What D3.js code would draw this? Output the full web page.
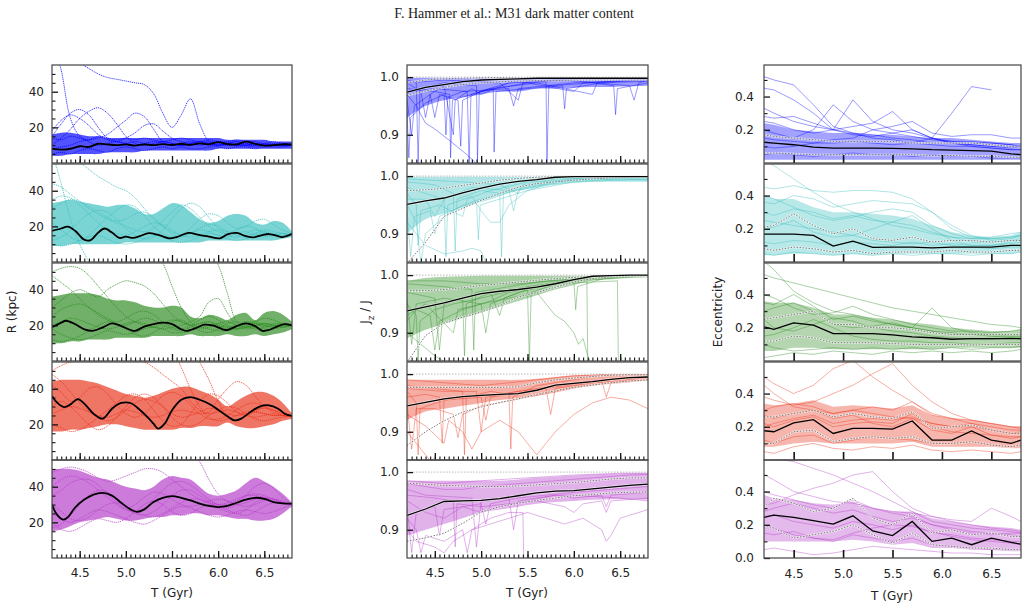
<!doctype html>
<html>
<head>
<meta charset="utf-8">
<script src="https://cdnjs.cloudflare.com/ajax/libs/d3/7.8.5/d3.min.js"></script>
<style>
  body { margin: 0; background: #fff; }
  text { font-family: "DejaVu Sans", sans-serif; fill: #222; }
  .domain { display: none; }
</style>
</head>
<body>
<svg width="1028" height="611"></svg>
<script>
// time grids (Gyr)
var tR = [4.2,4.3,4.4,4.5,4.6,4.7,4.8,4.9,5.0,5.1,5.2,5.3,5.4,5.5,5.6,5.7,5.8,5.9,6.0,6.1,6.2,6.3,6.4,6.5,6.6,6.7,6.8];
var tJ = [4.2,4.4,4.6,4.8,5.0,5.2,5.4,5.6,5.8,6.0,6.2,6.4,6.6,6.8];
var tE = [4.2,4.3,4.5,4.7,4.9,5.1,5.3,5.5,5.7,5.9,6.1,6.3,6.5,6.7,6.8];
var colors = ["#0000ff", "#3cbfbf", "#2e8b22", "#e8341c", "#b43cc8"];
var xTicks = [4.5, 5.0, 5.5, 6.0, 6.5];

// ---- R (kpc): dense bundle edges, a few single orbits, median orbit
var rBandLo = [
  [4,4,5,5,5,5,6,6,6,6,7,7,7,7,7,7,7,7,8,8,8,8,8,8,8,8,8],
  [9,9,10,10,10,10,10,10,11,11,11,11,11,11,11,11,11,12,12,12,12,12,12,12,12,13,14],
  [10,10,11,11,12,12,12,13,13,13,13,14,14,14,14,15,14,14,14,15,14,14,15,14,15,16,18],
  [16,16,17,17,18,19,20,20,19,18,17,17,17,17,18,18,19,19,19,21,19,18,18,19,20,22,23],
  [15,16,18,20,21,22,23,22,21,21,22,23,23,24,24,25,25,24,24,23,22,22,21,21,22,25,29]
];
var rBandHi = [
  [16,17,17,16,15,15,14,14,14,14,14,14,14,14,14,14,14,14,14,13,13,13,13,13,12,12,12],
  [33,34,35,34,33,32,31,32,32,30,27,27,30,33,32,28,24,22,23,26,27,26,22,21,23,22,17],
  [36,37,38,38,38,37,35,34,34,33,31,30,30,31,30,25,24,26,25,23,26,27,23,27,28,26,22],
  [44,45,45,45,44,43,41,39,37,36,35,36,38,40,41,41,39,37,34,30,33,36,38,38,36,32,26],
  [50,50,50,49,47,45,44,42,40,39,38,40,44,46,45,44,40,36,35,36,38,42,45,43,40,36,31]
];
var rLines = [
  [
    [62,60,58,56,53,50,48,47,46,45,44,39,28,20,27,36,22,12,10,11,10,10,11,10,10,11,10],
    [70,52,25,15,12,10,11,12,11,10,11,12,11,10,10,11,12,11,10,10,11,10,9,10,11,10,10],
    [15,22,28,30,27,20,14,12,11,12,11,10,12,11,10,11,12,11,10,11,12,10,10,11,10,10,10],
    [10,14,19,25,29,31,28,22,15,11,10,11,12,11,10,10,11,12,11,10,10,11,10,10,10,10,10],
    [8,9,10,12,13,14,16,20,24,28,26,19,12,10,11,12,11,10,10,11,12,11,10,10,10,10,10],
    [18,24,27,25,21,16,13,12,14,17,21,22,18,14,12,11,10,11,12,11,10,10,11,10,10,10,10],
    [5,6,5,7,8,7,6,8,9,8,7,8,9,8,9,8,8,9,9,8,9,9,8,9,9,9,10],
    [14,13,15,14,13,15,14,13,14,13,14,13,12,13,14,13,12,13,12,12,13,12,12,11,12,11,10]
  ],
  [
    [62,44,24,10,0,-10,null,null,null,null,null,null,null,null,null,null,null,null,null,null,null,null,null,null,null,null,null],
    [null,null,60,56,52,48,45,42,40,36,30,24,20,17,15,16,18,17,15,14,16,17,15,14,15,16,15],
    [44,42,38,34,30,27,24,22,20,18,17,19,23,28,32,30,25,20,17,16,18,20,19,16,15,16,15],
    [30,33,35,34,31,28,25,23,24,27,28,25,20,16,14,16,19,21,20,17,15,14,16,18,17,16,15],
    [12,14,18,23,27,29,28,24,19,15,13,14,18,24,30,33,31,25,19,15,14,16,18,17,15,14,15],
    [10,9,10,12,14,15,13,11,10,11,13,15,14,12,11,12,14,16,15,13,12,13,15,16,15,14,15],
    [22,18,14,12,15,20,25,29,32,31,26,20,16,14,15,19,24,27,26,22,19,20,23,24,21,18,16],
    [35,37,36,32,27,22,18,16,15,17,20,22,21,18,15,14,15,17,18,17,16,15,16,17,16,15,15]
  ],
  [
    [50,52,53,52,48,42,36,30,25,22,20,19,21,23,22,20,18,19,21,22,20,19,20,21,20,19,20],
    [48,44,40,35,30,26,23,21,20,22,24,23,20,18,17,19,21,22,20,18,19,21,22,20,19,20,20],
    [30,34,38,40,38,36,40,43,45,44,42,38,32,26,22,20,21,22,20,19,20,22,21,19,20,21,20],
    [null,null,null,null,null,null,null,null,null,null,null,62,55,42,30,22,19,20,21,19,18,20,21,20,19,20,20],
    [null,null,null,null,null,null,null,null,null,null,null,null,null,null,null,null,null,62,54,38,22,19,20,21,20,20,20],
    [12,11,12,14,17,20,22,21,18,15,14,16,19,22,23,20,17,16,18,21,22,20,18,19,21,21,20],
    [25,29,31,32,30,27,24,22,24,27,28,26,22,19,18,20,23,25,23,20,18,19,22,24,23,21,20],
    [18,15,13,12,13,15,17,16,15,16,18,19,18,16,16,17,19,18,17,17,18,19,19,18,18,19,20],
    [20,22,24,23,21,19,18,19,21,22,21,19,18,19,20,22,25,33,35,27,20,18,19,21,20,19,20]
  ],
  [
    [50,53,55,56,57,57,57,57,57,56,55,52,48,44,40,33,28,26,27,28,27,25,24,25,26,25,24.5],
    [48,44,38,32,27,24,22,24,28,32,34,33,30,26,24,25,27,29,28,26,25,26,27,26,25,25,24.5],
    [null,null,null,null,null,null,null,null,null,null,null,null,70,62,52,40,30,24,22,23,25,27,27,26,25,25,24.5],
    [null,null,null,null,null,null,null,null,null,null,null,null,null,null,null,65,55,45,33,24,22,25,28,29,28,26,24.5],
    [26,28,30,29,27,25,24,26,28,27,25,24,25,27,28,27,26,27,34,40,44,42,36,30,27,25,24.5],
    [30,33,30,25,20,17,19,24,30,35,37,35,30,24,20,19,21,25,28,30,29,26,23,22,23,24,24.5],
    [20,18,16,17,20,24,28,32,36,37,34,28,22,19,20,26,33,37,36,32,27,25,27,30,30,27,24.5],
    [42,38,33,35,40,41,37,31,26,24,26,31,36,38,36,31,26,23,23,25,28,31,32,30,28,26,24.5]
  ],
  [
    [48,50,51,50,48,45,43,44,46,48,50,50,48,44,40,36,33,31,30,31,33,35,35,34,32,31,30],
    [null,null,null,null,null,null,null,null,null,null,null,null,null,null,null,60,54,44,36,32,30,31,33,34,33,31,30],
    [17,19,24,30,35,38,37,33,28,25,24,26,30,35,38,38,35,32,30,30,32,35,36,35,33,31,30],
    [30,26,22,21,23,27,30,31,29,26,24,23,25,28,31,33,33,31,28,26,25,27,31,33,33,31,30],
    [40,44,46,45,42,38,34,30,27,26,28,33,38,42,43,41,37,33,30,28,30,35,40,42,39,34,30],
    [25,22,20,22,25,27,26,24,22,20,19,21,24,27,29,28,26,24,23,24,26,27,26,25,26,28,30],
    [35,38,42,44,44,41,36,31,28,30,34,37,36,33,30,29,30,32,33,32,30,29,30,32,33,32,30],
    [20,16,15,17,20,22,21,20,22,26,30,32,30,26,24,25,28,30,29,27,25,24,26,29,31,31,30]
  ]
];
var rMedian = [
  [[4.2,7.9],[4.3,7.5],[4.4,8],[4.5,9.4],[4.6,9],[4.7,10.8],[4.8,10.4],[4.9,10],[5.0,10.4],[5.1,9.8],[5.2,10.5],[5.3,10],[5.4,10.6],[5.5,10.1],[5.6,10.8],[5.7,10.2],[5.8,11],[5.9,10.5],[6.0,11.7],[6.1,10.6],[6.2,10.4],[6.3,12],[6.4,10.8],[6.5,9.8],[6.6,10],[6.7,10.5],[6.8,10.4]],
  [[4.2,17.5],[4.3,18.8],[4.37,19.8],[4.45,17.5],[4.55,12.5],[4.62,12.3],[4.7,16.5],[4.77,18.8],[4.85,16.5],[4.93,13.5],[5.0,14.2],[5.08,13.5],[5.15,14.5],[5.25,16.2],[5.35,15.2],[5.47,13.3],[5.55,14],[5.68,16.3],[5.78,15.3],[5.9,14.2],[6.02,13.3],[6.1,15.5],[6.2,16.3],[6.3,14.5],[6.38,13.8],[6.47,15],[6.55,15.7],[6.62,15],[6.7,14],[6.8,15.8]],
  [[4.2,18.9],[4.3,21.5],[4.35,22.6],[4.45,20.7],[4.55,17.8],[4.65,17],[4.75,18.9],[4.85,21.1],[4.95,19.6],[5.05,17.4],[5.1,16.9],[5.2,19.3],[5.3,20.7],[5.4,21.5],[5.5,20.7],[5.6,17.8],[5.65,16.9],[5.75,18.3],[5.85,20.4],[5.95,19.8],[6.05,17.8],[6.1,17.4],[6.2,19.6],[6.3,21.1],[6.4,19.6],[6.48,16.9],[6.55,17.4],[6.65,19.6],[6.72,20.7],[6.8,20]],
  [[4.2,36],[4.25,32.5],[4.33,29.7],[4.4,31.2],[4.48,34.2],[4.55,31.6],[4.65,26],[4.75,23.2],[4.85,28.8],[4.95,32],[5.05,32],[5.15,28.2],[5.25,23.2],[5.3,20.4],[5.35,17.6],[5.42,20.4],[5.5,27.9],[5.6,33.8],[5.7,35.3],[5.8,33.8],[5.9,31.6],[6.0,28.2],[6.1,24.5],[6.18,22.2],[6.25,23.2],[6.35,26.9],[6.45,30],[6.55,30.7],[6.65,28.8],[6.72,26],[6.8,24.7]],
  [[4.2,30],[4.25,24.6],[4.32,21.5],[4.37,22.8],[4.45,28.3],[4.55,32.8],[4.65,35.6],[4.75,36.5],[4.85,35],[4.95,31],[5.05,27.3],[5.12,25.9],[5.2,27.3],[5.3,31.4],[5.4,33.8],[5.5,34.7],[5.6,33.8],[5.7,32.3],[5.8,30.5],[5.9,29.2],[6.0,28.6],[6.1,29.2],[6.2,31],[6.3,32.8],[6.4,33.8],[6.5,33.2],[6.6,31.4],[6.7,30.6],[6.8,30.5]]
];

// ---- Jz / J
var jBandLo = [
  [0.93,0.95,0.96,0.965,0.97,0.975,0.975,0.98,0.98,0.982,0.983,0.983,0.984,0.985],
  [0.9,0.925,0.935,0.945,0.955,0.965,0.975,0.98,0.985,0.988,0.99,0.99,0.99,0.99],
  [0.89,0.905,0.915,0.925,0.935,0.945,0.955,0.965,0.975,0.983,0.99,0.993,0.995,0.996],
  [0.92,0.935,0.94,0.945,0.95,0.955,0.958,0.962,0.968,0.975,0.98,0.984,0.987,0.99],
  [0.89,0.9,0.91,0.92,0.93,0.935,0.94,0.945,0.948,0.95,0.952,0.953,0.953,0.952]
];
var jBandHi = [
  [0.999,0.999,0.999,0.999,0.999,0.999,0.999,0.999,0.999,0.999,0.999,0.999,0.999,0.999],
  [0.999,0.999,0.999,0.999,0.999,0.999,0.999,0.999,0.999,0.999,0.999,0.999,0.999,0.999],
  [0.99,0.995,0.997,0.998,0.999,0.999,0.999,0.999,0.999,0.999,0.999,0.999,0.999,0.999],
  [0.99,0.99,0.99,0.99,0.99,0.99,0.99,0.992,0.995,0.998,0.999,0.999,0.999,0.999],
  [0.985,0.985,0.985,0.985,0.985,0.985,0.987,0.99,0.992,0.994,0.996,0.997,0.998,0.998]
];
var jLines = [
  [
    [[4.2,0.99],[4.35,0.975],[4.4,0.93],[4.45,0.97],[4.6,0.985],[4.7,0.9],[4.72,0.96],[4.9,0.98],[5.0,0.97],[5.3,0.99],[5.8,0.995],[6.8,0.998]],
    [[4.2,0.97],[4.3,0.95],[4.4,0.92],[4.5,0.91],[4.66,0.89],[4.85,0.865],[4.95,0.85]],
    [[4.2,0.995],[4.3,0.99],[4.32,0.85],[4.34,0.98],[4.6,0.99],[4.95,0.985],[4.96,0.85],[4.98,0.975],[5.3,0.99],[5.7,0.992],[5.71,0.85],[5.73,0.985],[6.2,0.99],[6.43,0.985],[6.45,0.935],[6.47,0.98],[6.8,0.99]],
    [[4.2,0.98],[4.5,0.975],[4.66,0.97],[4.67,0.86],[4.69,0.96],[4.9,0.97],[5.13,0.98],[5.14,0.87],[5.16,0.975],[5.5,0.98],[5.88,0.985],[5.9,0.945],[5.92,0.98],[6.3,0.99],[6.8,0.993]],
    [[4.2,0.96],[4.25,0.9],[4.28,0.95],[4.45,0.97],[4.5,0.93],[4.55,0.97],[4.75,0.96],[4.78,0.88],[4.8,0.96],[5.0,0.975],[5.5,0.99],[6.0,0.975],[6.1,0.99],[6.8,0.997]],
    [[4.2,0.99],[4.6,0.995],[5.2,0.99],[5.4,0.96],[5.45,0.99],[5.9,0.995],[6.6,0.985],[6.65,0.96],[6.7,0.99],[6.8,0.995]],
    [[4.2,0.94],[4.22,0.86],[4.24,0.93],[4.4,0.955],[4.6,0.97],[4.62,0.9],[4.64,0.965],[4.8,0.975],[5.3,0.98],[5.35,0.95],[5.4,0.98],[6.0,0.99],[6.8,0.995]],
    [[4.2,0.975],[4.5,0.98],[4.85,0.975],[4.87,0.85],[4.89,0.97],[5.1,0.98],[5.6,0.99],[6.2,0.97],[6.25,0.99],[6.8,0.996]]
  ],
  [
    [[4.2,0.95],[4.3,0.92],[4.35,0.85],[4.4,0.9],[4.6,0.93],[4.8,0.95],[5.0,0.96],[5.4,0.98],[5.8,0.995],[6.8,0.999]],
    [[4.2,0.98],[4.4,0.97],[4.6,0.96],[4.62,0.86],[4.64,0.95],[4.9,0.965],[5.0,0.94],[5.1,0.92],[5.2,0.92],[5.3,0.95],[5.5,0.975],[6.0,0.99],[6.8,0.995]],
    [[4.2,0.92],[4.4,0.88],[4.6,0.865],[4.8,0.87],[4.9,0.875],[5.0,0.87],[5.05,0.85]],
    [[4.2,0.99],[4.5,0.985],[4.7,0.97],[4.72,0.87],[4.74,0.96],[5.0,0.975],[5.2,0.97],[5.22,0.86],[5.24,0.97],[5.6,0.985],[6.0,0.995],[6.8,0.998]],
    [[4.2,0.97],[4.3,0.95],[4.32,0.88],[4.35,0.94],[4.55,0.95],[4.8,0.93],[4.85,0.96],[5.1,0.975],[5.5,0.99],[6.5,0.995],[6.8,0.993]],
    [[4.2,0.94],[4.24,0.86],[4.28,0.93],[4.45,0.94],[4.5,0.9],[4.55,0.93],[4.75,0.945],[4.95,0.955],[4.97,0.89],[4.99,0.95],[5.3,0.965],[5.7,0.985],[6.1,0.995],[6.8,0.999]],
    [[4.2,0.995],[4.8,0.99],[5.2,0.985],[5.4,0.97],[5.45,0.985],[6.0,0.995],[6.8,0.999]],
    [[4.2,0.96],[4.4,0.96],[4.5,0.93],[4.6,0.96],[4.9,0.98],[5.3,0.975],[5.35,0.94],[5.4,0.975],[5.8,0.99],[6.8,0.998]]
  ],
  [
    [[4.2,0.95],[4.3,0.93],[4.32,0.85],[4.34,0.92],[4.5,0.94],[4.7,0.95],[5.0,0.96],[5.5,0.98],[6.2,0.995],[6.8,0.999]],
    [[4.2,0.9],[4.35,0.88],[4.5,0.86],[4.6,0.85]],
    [[4.2,0.97],[4.5,0.96],[4.55,0.87],[4.6,0.95],[4.8,0.96],[4.82,0.86],[4.84,0.95],[5.1,0.97],[5.2,0.93],[5.25,0.96],[5.5,0.975],[5.52,0.85],[5.54,0.97],[5.9,0.99],[6.8,0.999]],
    [[4.2,0.93],[4.4,0.95],[4.7,0.9],[4.75,0.94],[5.0,0.95],[5.3,0.96],[5.6,0.97],[5.8,0.93],[5.9,0.92],[6.0,0.9],[6.05,0.88],[6.1,0.89],[6.15,0.86],[6.18,0.85]],
    [[4.2,0.985],[4.6,0.98],[4.9,0.975],[4.92,0.87],[4.94,0.97],[5.3,0.98],[5.7,0.99],[6.14,0.995],[6.15,0.85]],
    [[4.2,0.96],[4.25,0.88],[4.3,0.95],[4.6,0.96],[5.0,0.95],[5.05,0.9],[5.1,0.95],[5.4,0.97],[5.8,0.985],[6.47,0.99],[6.48,0.85]],
    [[4.2,0.99],[4.6,0.99],[5.0,0.985],[5.4,0.985],[5.8,0.99],[6.0,0.99],[6.02,0.94],[6.04,0.98],[6.4,0.998],[6.8,0.999]],
    [[4.2,0.92],[4.3,0.94],[4.45,0.93],[4.5,0.87],[4.55,0.92],[4.8,0.94],[5.1,0.955],[5.3,0.97],[5.6,0.98],[6.0,0.99],[6.8,0.999]]
  ],
  [
    [[4.2,0.97],[4.3,0.95],[4.32,0.86],[4.34,0.94],[4.6,0.955],[4.9,0.96],[5.2,0.965],[5.6,0.975],[6.0,0.985],[6.5,0.993],[6.8,0.995]],
    [[4.2,0.93],[4.4,0.91],[4.6,0.88],[4.65,0.92],[4.8,0.9],[4.9,0.87],[5.0,0.9],[5.2,0.92],[5.4,0.9],[5.5,0.88],[5.6,0.86],[5.7,0.88],[5.8,0.9],[6.0,0.93],[6.2,0.95],[6.4,0.96],[6.6,0.955],[6.8,0.94]],
    [[4.2,0.98],[4.5,0.975],[4.8,0.97],[4.82,0.86],[4.84,0.96],[5.1,0.97],[5.3,0.965],[5.32,0.87],[5.34,0.96],[5.6,0.98],[6.0,0.99],[6.3,0.999],[6.8,0.999]],
    [[4.2,0.95],[4.25,0.87],[4.3,0.94],[4.5,0.94],[4.7,0.93],[4.75,0.89],[4.8,0.93],[5.0,0.945],[5.2,0.95],[5.5,0.96],[5.8,0.97],[6.1,0.98],[6.5,0.985],[6.8,0.99]],
    [[4.2,0.99],[4.6,0.985],[5.0,0.98],[5.3,0.985],[5.6,0.99],[6.0,0.997],[6.4,0.999],[6.8,0.999]],
    [[4.2,0.9],[4.3,0.88],[4.4,0.86],[4.45,0.85]],
    [[4.2,0.96],[4.4,0.965],[4.55,0.96],[4.58,0.88],[4.6,0.955],[5.0,0.96],[5.05,0.92],[5.1,0.96],[5.5,0.97],[5.7,0.975],[5.75,0.93],[5.8,0.975],[6.2,0.985],[6.8,0.99]],
    [[4.2,0.975],[4.6,0.97],[4.95,0.97],[5.0,0.9],[5.05,0.96],[5.4,0.97],[5.9,0.98],[6.3,0.99],[6.35,0.96],[6.4,0.985],[6.8,0.995]]
  ],
  [
    [[4.2,0.98],[4.4,0.975],[4.6,0.97],[4.8,0.97],[5.0,0.975],[5.4,0.98],[5.8,0.985],[6.2,0.99],[6.6,0.995],[6.8,0.996]],
    [[4.2,0.92],[4.3,0.9],[4.35,0.86],[4.4,0.89],[4.6,0.88],[4.8,0.9],[4.85,0.86],[4.9,0.9],[5.1,0.92],[5.3,0.93],[5.45,0.93],[5.46,0.85]],
    [[4.2,0.96],[4.5,0.955],[4.7,0.95],[4.72,0.87],[4.74,0.945],[5.0,0.94],[5.3,0.945],[5.6,0.95],[5.9,0.94],[6.0,0.93],[6.1,0.945],[6.3,0.95],[6.35,0.93],[6.4,0.95],[6.8,0.955]],
    [[4.2,0.9],[4.3,0.88],[4.5,0.87],[4.6,0.86],[4.7,0.88],[4.9,0.9],[5.1,0.91],[5.3,0.92],[5.5,0.93],[5.7,0.92],[5.9,0.91],[6.1,0.92],[6.3,0.9],[6.35,0.88],[6.4,0.89],[6.5,0.92],[6.8,0.935]],
    [[4.2,0.985],[4.6,0.98],[5.0,0.985],[5.5,0.99],[6.0,0.995],[6.5,0.998],[6.8,0.998]],
    [[4.2,0.94],[4.25,0.86],[4.3,0.93],[4.5,0.94],[4.55,0.89],[4.6,0.935],[5.0,0.945],[5.05,0.91],[5.1,0.945],[5.4,0.955],[5.7,0.96],[6.0,0.965],[6.4,0.97],[6.8,0.975]],
    [[4.2,0.97],[4.4,0.96],[4.9,0.955],[4.95,0.87],[5.0,0.95],[5.3,0.955],[5.35,0.9],[5.4,0.95],[5.8,0.96],[6.0,0.955],[6.3,0.96],[6.35,0.94],[6.4,0.96],[6.8,0.965]],
    [[4.2,0.95],[4.4,0.93],[4.6,0.92],[4.8,0.94],[5.0,0.93],[5.2,0.94],[5.5,0.95],[5.8,0.96],[6.0,0.96],[6.5,0.955],[6.8,0.95]]
  ]
];
var jMed = [
  [0.974,0.982,0.987,0.992,0.995,0.996,0.997,0.998,0.998,0.998,0.998,0.998,0.998,0.998],
  [0.951,0.957,0.962,0.971,0.979,0.986,0.991,0.994,0.998,0.999,0.999,0.999,0.999,0.999],
  [0.938,0.945,0.952,0.96,0.968,0.972,0.975,0.979,0.985,0.992,0.998,0.999,1.0,1.0],
  [0.945,0.951,0.957,0.961,0.963,0.965,0.966,0.972,0.981,0.984,0.987,0.991,0.994,0.995],
  [0.925,0.936,0.949,0.95,0.951,0.954,0.959,0.964,0.967,0.968,0.971,0.974,0.977,0.979]
];
var jUp = [
  [0.99,0.995,0.997,0.998,0.999,0.999,0.999,0.999,0.999,0.999,0.999,0.999,0.999,0.999],
  [0.975,0.976,0.979,0.984,0.988,0.993,0.996,0.998,0.999,0.999,0.999,0.999,0.999,0.999],
  [0.973,0.973,0.975,0.978,0.982,0.985,0.988,0.991,0.994,0.996,0.998,0.999,0.999,0.999],
  [0.977,0.977,0.977,0.977,0.977,0.977,0.978,0.985,0.99,0.993,0.996,0.998,0.999,0.999],
  [0.981,0.979,0.977,0.976,0.975,0.975,0.976,0.978,0.98,0.982,0.985,0.988,0.99,0.99]
];
var jLo = [
  [0.968,0.976,0.982,0.987,0.99,0.992,0.993,0.994,0.994,0.995,0.995,0.995,0.995,0.995],
  [0.849,0.885,0.93,0.944,0.958,0.97,0.981,0.987,0.99,0.993,0.995,0.997,0.998,0.999],
  [0.849,0.895,0.917,0.927,0.936,0.947,0.962,0.97,0.979,0.988,0.994,0.997,0.998,0.999],
  [0.876,0.9,0.919,0.934,0.943,0.951,0.957,0.965,0.971,0.977,0.981,0.985,0.988,0.99],
  [0.88,0.886,0.894,0.911,0.931,0.94,0.946,0.951,0.955,0.959,0.961,0.964,0.965,0.966]
];

// ---- Eccentricity
var eBandLo = [
  [0.02,0.02,0.02,0.02,0.02,0.02,0.02,0.02,0.02,0.02,0.02,0.02,0.02,0.02,0.02],
  [0.04,0.04,0.05,0.05,0.04,0.05,0.04,0.05,0.05,0.05,0.05,0.05,0.05,0.05,0.06],
  [0.06,0.06,0.08,0.08,0.07,0.07,0.07,0.07,0.07,0.07,0.08,0.08,0.08,0.08,0.08],
  [0.08,0.08,0.1,0.11,0.1,0.1,0.1,0.1,0.11,0.08,0.08,0.08,0.08,0.07,0.07],
  [0.1,0.1,0.1,0.1,0.1,0.11,0.1,0.08,0.09,0.06,0.06,0.05,0.05,0.04,0.04]
];
var eBandHi = [
  [0.24,0.23,0.2,0.19,0.18,0.18,0.17,0.17,0.16,0.15,0.15,0.14,0.13,0.12,0.12],
  [0.4,0.38,0.38,0.33,0.3,0.3,0.29,0.28,0.26,0.22,0.18,0.16,0.15,0.16,0.18],
  [0.36,0.35,0.35,0.32,0.28,0.28,0.26,0.25,0.23,0.22,0.2,0.19,0.18,0.18,0.19],
  [0.34,0.33,0.34,0.36,0.32,0.33,0.32,0.31,0.33,0.27,0.25,0.24,0.22,0.2,0.2],
  [0.38,0.36,0.35,0.33,0.32,0.34,0.3,0.28,0.28,0.24,0.22,0.2,0.19,0.18,0.17]
];
var eLines = [
  [
    [0.52,0.5,0.47,0.35,0.22,0.18,0.15,0.14,0.12,0.11,0.1,0.1,0.09,0.08,0.08],
    [0.45,0.44,0.38,0.3,0.2,0.17,0.16,0.18,0.2,0.15,0.12,0.11,0.1,0.1,0.1],
    [0.2,0.18,0.15,0.2,0.35,0.25,0.2,0.18,0.16,0.14,0.13,0.13,0.12,0.11,0.1],
    [0.15,0.14,0.13,0.12,0.12,0.13,0.12,0.11,0.12,0.15,0.3,0.46,0.44,null,null],
    [0.33,0.3,0.25,0.22,0.2,0.38,0.25,0.2,0.18,0.15,0.12,0.1,0.09,0.08,0.08],
    [0.25,0.24,0.2,0.18,0.2,0.22,0.24,0.31,0.2,0.15,0.13,0.12,0.12,0.11,0.1],
    [0.1,0.09,0.1,0.12,0.14,0.15,0.2,0.22,0.25,0.18,0.16,0.17,0.17,0.15,0.15],
    [0.05,0.06,0.05,0.04,0.05,0.06,0.05,0.05,0.04,0.05,0.04,0.04,0.03,0.03,0.03],
    [0.28,0.27,0.28,0.24,0.2,0.18,0.17,0.15,0.14,0.12,0.12,0.11,0.1,0.09,0.1]
  ],
  [
    [0.62,0.58,0.5,0.42,0.35,0.3,0.26,0.22,0.2,0.17,0.15,0.14,0.14,0.15,0.16],
    [0.45,0.44,0.46,0.43,0.42,0.43,0.43,0.42,0.38,0.3,0.2,0.15,0.14,0.15,0.16],
    [0.36,0.35,0.4,0.38,0.33,0.35,0.37,0.36,0.35,0.3,0.22,0.16,0.13,0.14,0.16],
    [0.3,0.28,0.32,0.3,0.26,0.28,0.25,0.24,0.22,0.18,0.15,0.12,0.12,0.13,0.14],
    [0.4,0.38,0.33,0.28,0.25,0.27,0.3,0.32,0.3,0.22,0.17,0.14,0.15,0.17,0.18],
    [0.12,0.11,0.13,0.12,0.1,0.12,0.11,0.1,0.12,0.1,0.11,0.1,0.1,0.11,0.12],
    [0.05,0.04,0.06,0.05,0.04,0.05,0.04,0.05,0.04,0.05,0.05,0.04,0.05,0.05,0.06],
    [0.25,0.24,0.22,0.2,0.18,0.16,0.2,0.24,0.28,0.2,0.13,0.1,0.1,0.12,0.13],
    [0.2,0.21,0.25,0.18,0.15,0.16,0.13,0.12,0.11,0.12,0.1,0.09,0.08,0.09,0.09]
  ],
  [
    [0.6,0.55,0.42,0.35,0.3,0.28,0.25,0.22,0.2,0.18,0.16,0.16,0.15,0.15,0.15],
    [0.52,0.5,0.47,0.44,0.41,0.38,0.35,0.32,0.3,0.28,0.26,0.24,0.22,0.21,0.2],
    [0.35,0.34,0.4,0.33,0.25,0.27,0.24,0.22,0.2,0.32,0.2,0.17,0.16,0.15,0.15],
    [0.3,0.32,0.35,0.3,0.22,0.2,0.21,0.23,0.2,0.18,0.17,0.16,0.15,0.14,0.14],
    [0.1,0.08,0.06,0.07,0.08,0.07,0.08,0.07,0.08,0.07,0.08,0.07,0.08,0.08,0.09],
    [0.25,0.2,0.18,0.22,0.26,0.24,0.2,0.18,0.17,0.15,0.14,0.13,0.13,0.14,0.13],
    [0.15,0.16,0.2,0.25,0.2,0.15,0.13,0.12,0.12,0.11,0.11,0.1,0.1,0.11,0.11],
    [0.4,0.38,0.32,0.28,0.29,0.33,0.28,0.25,0.22,0.2,0.18,0.18,0.17,0.18,0.19],
    [0.02,0.03,0.05,0.04,0.06,0.05,0.04,0.06,0.05,0.06,0.05,0.06,0.05,0.06,0.07]
  ],
  [
    [0.38,0.36,0.33,0.35,0.4,0.45,0.52,0.58,0.45,0.35,0.28,0.24,0.22,0.2,0.2],
    [0.5,0.46,0.4,0.45,0.55,0.6,0.5,0.42,0.35,0.28,0.25,0.22,0.2,0.18,0.18],
    [0.3,0.32,0.34,0.32,0.28,0.3,0.32,0.3,0.35,0.27,0.25,0.24,0.22,0.2,0.19],
    [0.2,0.22,0.25,0.27,0.22,0.24,0.25,0.24,0.26,0.22,0.2,0.22,0.18,0.16,0.17],
    [0.12,0.1,0.14,0.15,0.1,0.12,0.14,0.13,0.12,0.1,0.1,0.11,0.09,0.08,0.09],
    [0.27,0.25,0.28,0.3,0.25,0.27,0.22,0.2,0.25,0.18,0.16,0.2,0.15,0.13,0.14],
    [0.05,0.04,0.08,0.1,0.07,0.06,0.08,0.07,0.09,0.06,0.05,0.06,0.05,0.04,0.05],
    [0.22,0.2,0.24,0.26,0.2,0.22,0.23,0.22,0.28,0.2,0.17,0.16,0.15,0.14,0.14],
    [0.45,0.4,0.32,0.3,0.28,0.3,0.28,0.26,0.25,0.22,0.2,0.2,0.18,0.16,0.16]
  ],
  [
    [0.62,0.6,0.58,0.54,0.5,0.45,0.4,0.34,0.28,0.22,0.2,0.18,0.17,0.16,0.15],
    [0.5,0.47,0.4,0.37,0.34,0.33,0.3,0.27,0.25,0.2,0.18,0.16,0.15,0.14,0.13],
    [0.32,0.33,0.38,0.42,0.45,0.5,0.52,0.4,0.3,0.25,0.22,0.2,0.18,0.17,0.16],
    [0.4,0.38,0.35,0.32,0.3,0.35,0.3,0.28,0.27,0.25,0.23,0.22,0.3,0.25,0.22],
    [0.25,0.26,0.22,0.2,0.18,0.22,0.2,0.17,0.2,0.15,0.14,0.12,0.11,0.1,0.1],
    [0.15,0.14,0.16,0.12,0.1,0.14,0.12,0.1,0.12,0.08,0.07,0.06,0.05,0.05,0.05],
    [0.28,0.3,0.33,0.3,0.27,0.29,0.25,0.22,0.24,0.2,0.17,0.15,0.14,0.15,0.15],
    [0.05,0.06,0.04,0.02,0.03,0.05,0.07,0.06,0.05,0.04,0.03,0.03,0.02,0.02,0.02],
    [0.2,0.18,0.14,0.12,0.11,0.15,0.18,0.2,0.19,0.16,0.13,0.11,0.1,0.09,0.08]
  ]
];
var eMed = [
  [0.125,0.12,0.11,0.095,0.09,0.09,0.09,0.088,0.085,0.08,0.078,0.075,0.072,0.055,0.05],
  [0.168,0.168,0.168,0.16,0.096,0.126,0.088,0.09,0.09,0.085,0.09,0.09,0.09,0.1,0.1],
  [0.206,0.19,0.23,0.216,0.165,0.165,0.165,0.157,0.145,0.14,0.131,0.135,0.135,0.135,0.135],
  [0.176,0.17,0.224,0.243,0.16,0.19,0.19,0.186,0.235,0.12,0.12,0.175,0.12,0.1,0.12],
  [0.244,0.258,0.244,0.225,0.204,0.254,0.163,0.135,0.22,0.1,0.12,0.08,0.12,0.094,0.083]
];
var eUp = [
  [0.17,0.16,0.15,0.14,0.13,0.13,0.13,0.13,0.12,0.12,0.12,0.12,0.11,0.1,0.1],
  [0.21,0.22,0.29,0.22,0.17,0.2,0.14,0.13,0.15,0.12,0.13,0.13,0.12,0.13,0.13],
  [0.25,0.26,0.28,0.3,0.22,0.22,0.2,0.2,0.19,0.17,0.16,0.16,0.16,0.16,0.16],
  [0.26,0.26,0.28,0.3,0.26,0.28,0.26,0.25,0.29,0.19,0.2,0.21,0.18,0.16,0.16],
  [0.31,0.36,0.33,0.28,0.3,0.36,0.24,0.2,0.27,0.15,0.17,0.14,0.15,0.13,0.13]
];
var eLo = [
  [0.06,0.06,0.055,0.05,0.05,0.05,0.05,0.05,0.05,0.045,0.045,0.04,0.04,0.035,0.035],
  [0.08,0.07,0.09,0.08,0.06,0.07,0.05,0.06,0.06,0.06,0.07,0.06,0.06,0.07,0.07],
  [0.12,0.12,0.15,0.14,0.11,0.11,0.11,0.105,0.1,0.1,0.1,0.095,0.1,0.1,0.1],
  [0.1,0.1,0.17,0.18,0.11,0.13,0.14,0.13,0.14,0.1,0.1,0.11,0.09,0.08,0.09],
  [0.2,0.18,0.12,0.14,0.16,0.2,0.14,0.09,0.15,0.08,0.07,0.06,0.06,0.05,0.05]
];

var svg = d3.select("svg");
var rowTop = [65, 164, 263, 362, 460], rowH = 98;
var colX = [[52, 292], [407, 648], [764, 1021]];
var yDom = [[0, 55], [0.851, 1.021], [0, 0.59]];

svg.append("text").attr("x", 514).attr("y", 18).attr("text-anchor", "middle")
  .style("font-family", "'Liberation Serif', 'Times New Roman', serif").style("font-size", "14px")
  .text("F. Hammer et al.: M31 dark matter content");

function makePanel(c, r) {
  var x = d3.scaleLinear().domain([4.2, 6.8]).range(colX[c]);
  var y = d3.scaleLinear().domain(yDom[c]).range([rowTop[r] + rowH, rowTop[r]]);
  var id = "clip" + c + r;
  svg.append("clipPath").attr("id", id).append("rect")
    .attr("x", colX[c][0]).attr("y", rowTop[r]).attr("width", colX[c][1] - colX[c][0]).attr("height", rowH);
  var g = svg.append("g").attr("clip-path", "url(#" + id + ")");
  return {x: x, y: y, g: g};
}

function axes(p, c, r) {
  var x = p.x, y = p.y, bottom = rowTop[r] + rowH, left = colX[c][0];
  var last = r == 4;
  var bx = svg.append("g").attr("transform", "translate(0," + bottom + ")")
    .call(d3.axisBottom(x).tickValues(xTicks).tickSize(c == 2 ? -8 : -7).tickPadding(c == 2 ? 11 : 10)
      .tickFormat(last ? d3.format(".1f") : ""));
  bx.selectAll("line").attr("stroke", "#111").attr("stroke-width", c == 2 ? 1.6 : 1.3);
  if (c < 2) {
    svg.append("g").attr("transform", "translate(0," + bottom + ")")
      .call(d3.axisBottom(x).tickValues(d3.range(4.25, 6.79, 0.05)).tickSize(-3.5).tickFormat(""))
      .selectAll("line").attr("stroke", "#111").attr("stroke-width", 1.1);
  }
  var maj = c == 0 ? [20, 40] : c == 1 ? [0.9, 1.0] : (last ? [0, 0.2, 0.4] : [0.2, 0.4]);
  var ly = svg.append("g").attr("transform", "translate(" + left + ",0)")
    .call(d3.axisLeft(y).tickValues(maj).tickSize(-6).tickPadding(c == 2 ? 10 : 8)
      .tickFormat(c == 0 ? d3.format("d") : d3.format(".1f")));
  ly.selectAll("line").attr("stroke", "#111").attr("stroke-width", 1.3);
  var minr = c == 0 ? [5, 10, 15, 25, 30, 35, 45, 50] : c == 2 ? [0.1, 0.3, 0.5] : [];
  svg.append("g").attr("transform", "translate(" + left + ",0)")
    .call(d3.axisLeft(y).tickValues(minr).tickSize(-3.5).tickFormat(""))
    .selectAll("line").attr("stroke", "#111").attr("stroke-width", 1.1);
  svg.selectAll(".tick text").attr("font-size", 12).attr("font-family", "DejaVu Sans, sans-serif").attr("fill", "#222");
  svg.append("rect").attr("x", left).attr("y", rowTop[r]).attr("width", colX[c][1] - left).attr("height", rowH)
    .attr("fill", "none").attr("stroke", "#444").attr("stroke-width", 1.2);
}

var curve = d3.curveCatmullRom;

// R column
rMedian.forEach(function(med, r) {
  var p = makePanel(0, r), x = p.x, y = p.y;
  p.g.append("path").datum(rBandHi[r])
    .attr("d", d3.area().curve(curve).x(function(d, i) { return x(tR[i]); })
      .y0(function(d, i) { return y(rBandLo[r][i]); }).y1(function(d) { return y(d); }))
    .attr("fill", colors[r]).attr("fill-opacity", 0.68);
  var ln = d3.line().curve(curve).defined(function(d) { return d != null; })
    .x(function(d, i) { return x(tR[i]); }).y(function(d) { return y(d); });
  p.g.selectAll(".orb").data(rLines[r]).enter().append("path")
    .attr("d", ln).attr("fill", "none").attr("stroke", colors[r]).attr("stroke-width", 0.9)
    .attr("stroke-dasharray", "1.2,0.8").attr("opacity", 0.85);
  p.g.append("path").datum(med)
    .attr("d", d3.line().curve(curve).x(function(d) { return x(d[0]); }).y(function(d) { return y(d[1]); }))
    .attr("fill", "none").attr("stroke", "#000").attr("stroke-width", 1.8);
  axes(p, 0, r);
});

// Jz/J column
jMed.forEach(function(med, r) {
  var p = makePanel(1, r), x = p.x, y = p.y;
  p.g.append("path").datum(jBandHi[r])
    .attr("d", d3.area().curve(curve).x(function(d, i) { return x(tJ[i]); })
      .y0(function(d, i) { return y(jBandLo[r][i]); }).y1(function(d) { return y(d); }))
    .attr("fill", colors[r]).attr("fill-opacity", 0.4);
  p.g.append("line").attr("x1", colX[1][0]).attr("x2", colX[1][1]).attr("y1", y(1)).attr("y2", y(1))
    .attr("stroke", "#aaa").attr("stroke-width", 0.8).attr("stroke-dasharray", "1.5,1.5");
  p.g.selectAll(".orb").data(jLines[r]).enter().append("path")
    .attr("d", d3.line().x(function(d) { return x(d[0]); }).y(function(d) { return y(d[1]); }))
    .attr("fill", "none").attr("stroke", colors[r]).attr("stroke-width", 0.8).attr("opacity", 0.5);
  var ln = d3.line().x(function(d, i) { return x(tJ[i]); }).y(function(d) { return y(d); });
  [jUp[r], jLo[r]].forEach(function(s) {
    p.g.append("path").datum(s).attr("d", ln).attr("fill", "none").attr("stroke", "#fff").attr("stroke-width", 2).attr("opacity", 0.6);
    p.g.append("path").datum(s).attr("d", ln).attr("fill", "none").attr("stroke", "#777")
      .attr("stroke-width", 1).attr("stroke-dasharray", "1.5,1.5");
  });
  p.g.append("path").datum(med).attr("d", ln).attr("fill", "none").attr("stroke", "#fff").attr("stroke-width", 2.6).attr("opacity", 0.6);
  p.g.append("path").datum(med).attr("d", ln).attr("fill", "none").attr("stroke", "#000").attr("stroke-width", 1.3);
  axes(p, 1, r);
});

// Eccentricity column
eMed.forEach(function(med, r) {
  var p = makePanel(2, r), x = p.x, y = p.y;
  p.g.append("path").datum(eBandHi[r])
    .attr("d", d3.area().x(function(d, i) { return x(tE[i]); })
      .y0(function(d, i) { return y(eBandLo[r][i]); }).y1(function(d) { return y(d); }))
    .attr("fill", colors[r]).attr("fill-opacity", 0.36);
  var ln = d3.line().defined(function(d) { return d != null; })
    .x(function(d, i) { return x(tE[i]); }).y(function(d) { return y(d); });
  p.g.selectAll(".orb").data(eLines[r]).enter().append("path")
    .attr("d", ln).attr("fill", "none").attr("stroke", colors[r]).attr("stroke-width", 0.8).attr("opacity", 0.5);
  [eUp[r], eLo[r]].forEach(function(s) {
    p.g.append("path").datum(s).attr("d", ln).attr("fill", "none").attr("stroke", "#fff").attr("stroke-width", 2).attr("opacity", 0.6);
    p.g.append("path").datum(s).attr("d", ln).attr("fill", "none").attr("stroke", "#777")
      .attr("stroke-width", 1).attr("stroke-dasharray", "1.5,1.5");
  });
  p.g.append("path").datum(med).attr("d", ln).attr("fill", "none").attr("stroke", "#000").attr("stroke-width", 1.3);
  axes(p, 2, r);
});

// axis titles
[[12, "R (kpc)"], [718, "Eccentricity"]].forEach(function(t) {
  svg.append("text").attr("transform", "translate(" + t[0] + ",312) rotate(-90)")
    .attr("text-anchor", "middle").attr("dy", "0.35em").style("font-size", "12px").text(t[1]);
});
var jt = svg.append("text").attr("transform", "translate(365,312) rotate(-90)")
  .attr("text-anchor", "middle").attr("dy", "0.35em").style("font-size", "12px");
jt.append("tspan").text("J");
jt.append("tspan").attr("baseline-shift", "sub").style("font-size", "9px").text("z");
jt.append("tspan").text(" / J");
[[172, 597], [527, 597], [892, 600]].forEach(function(t) {
  svg.append("text").attr("x", t[0]).attr("y", t[1]).attr("text-anchor", "middle")
    .style("font-size", "12px").text("T (Gyr)");
});
</script>
</body>
</html>
